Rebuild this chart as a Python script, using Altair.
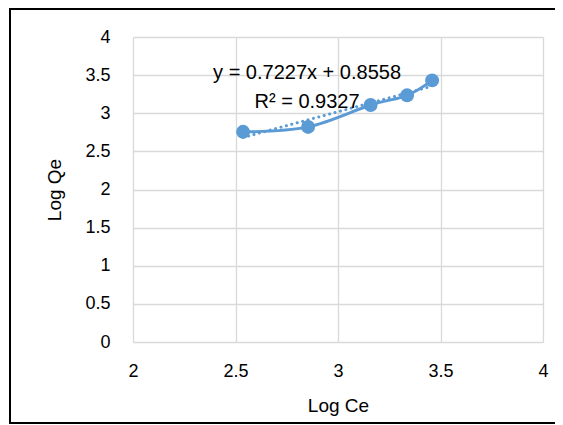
import altair as alt
import pandas as pd

log_ce = [2.537, 2.854, 3.159, 3.337, 3.459]
log_qe = [2.756, 2.821, 3.108, 3.235, 3.431]
x_ticks = [2, 2.5, 3, 3.5, 4]
y_ticks = [0, 0.5, 1, 1.5, 2, 2.5, 3, 3.5, 4]
eq_lines = ["y = 0.7227x + 0.8558", "R² = 0.9327"]
eq_x = [2.849, 2.849]
eq_y = [3.532, 3.151]

df = pd.DataFrame({"x": log_ce, "y": log_qe})
df_eq = pd.DataFrame({"x": eq_x, "y": eq_y, "t": eq_lines})

FONT = "Liberation Sans"
BLUE = "#5B9BD5"
W, H = 410, 305

xs = alt.X("x:Q", scale=alt.Scale(domain=[2, 4], nice=False),
           axis=alt.Axis(values=x_ticks, format="~g", title="Log Ce", grid=True, ticks=False, domain=False,
                         labelPadding=20, titlePadding=16, labelFontSize=18, titleFontSize=19,
                         labelFont=FONT, titleFont=FONT, labelColor="#000", titleColor="#000",
                         titleFontWeight="normal", labelFlush=False, labelOverlap=False))
ys = alt.Y("y:Q", scale=alt.Scale(domain=[0, 4], nice=False),
           axis=alt.Axis(values=y_ticks, format="~g", title="Log Qe", grid=True, ticks=False, domain=False,
                         labelPadding=23, titlePadding=20, labelFontSize=18, titleFontSize=19,
                         labelFont=FONT, titleFont=FONT, labelColor="#000", titleColor="#000",
                         titleFontWeight="normal", labelFlush=False, labelOverlap=False))

base = alt.Chart(df)

line = base.mark_line(color=BLUE, strokeWidth=3, interpolate="cardinal").encode(x=xs, y=ys)
pts = base.mark_circle(color=BLUE, size=195, opacity=1).encode(x=xs, y=ys)
trend = base.transform_regression("x", "y").mark_line(
    color=BLUE, strokeWidth=3, strokeDash=[0.1, 5.5], strokeCap="round"
).encode(x=xs, y=ys)
eq = alt.Chart(df_eq).mark_text(font=FONT, fontSize=20, color="#000").encode(
    x=xs, y=ys, text="t:N")
border = alt.Chart(alt.Data(values=[{}])).mark_rect(
    filled=False, stroke="#000", strokeWidth=2, clip=False
).encode(x=alt.value(-123), x2=alt.value(440), y=alt.value(-28), y2=alt.value(386))

chart = alt.layer(trend, line, pts, eq, border).properties(
    width=W, height=H,
    autosize=alt.AutoSizeParams(type="none"),
    padding={"left": 125, "top": 29, "right": 12, "bottom": 82},
).configure_axis(gridColor="#d9d9d9", gridWidth=1.3).configure_view(strokeWidth=0)

chart.save("out.html", embed_options={"renderer": "svg", "actions": False})
